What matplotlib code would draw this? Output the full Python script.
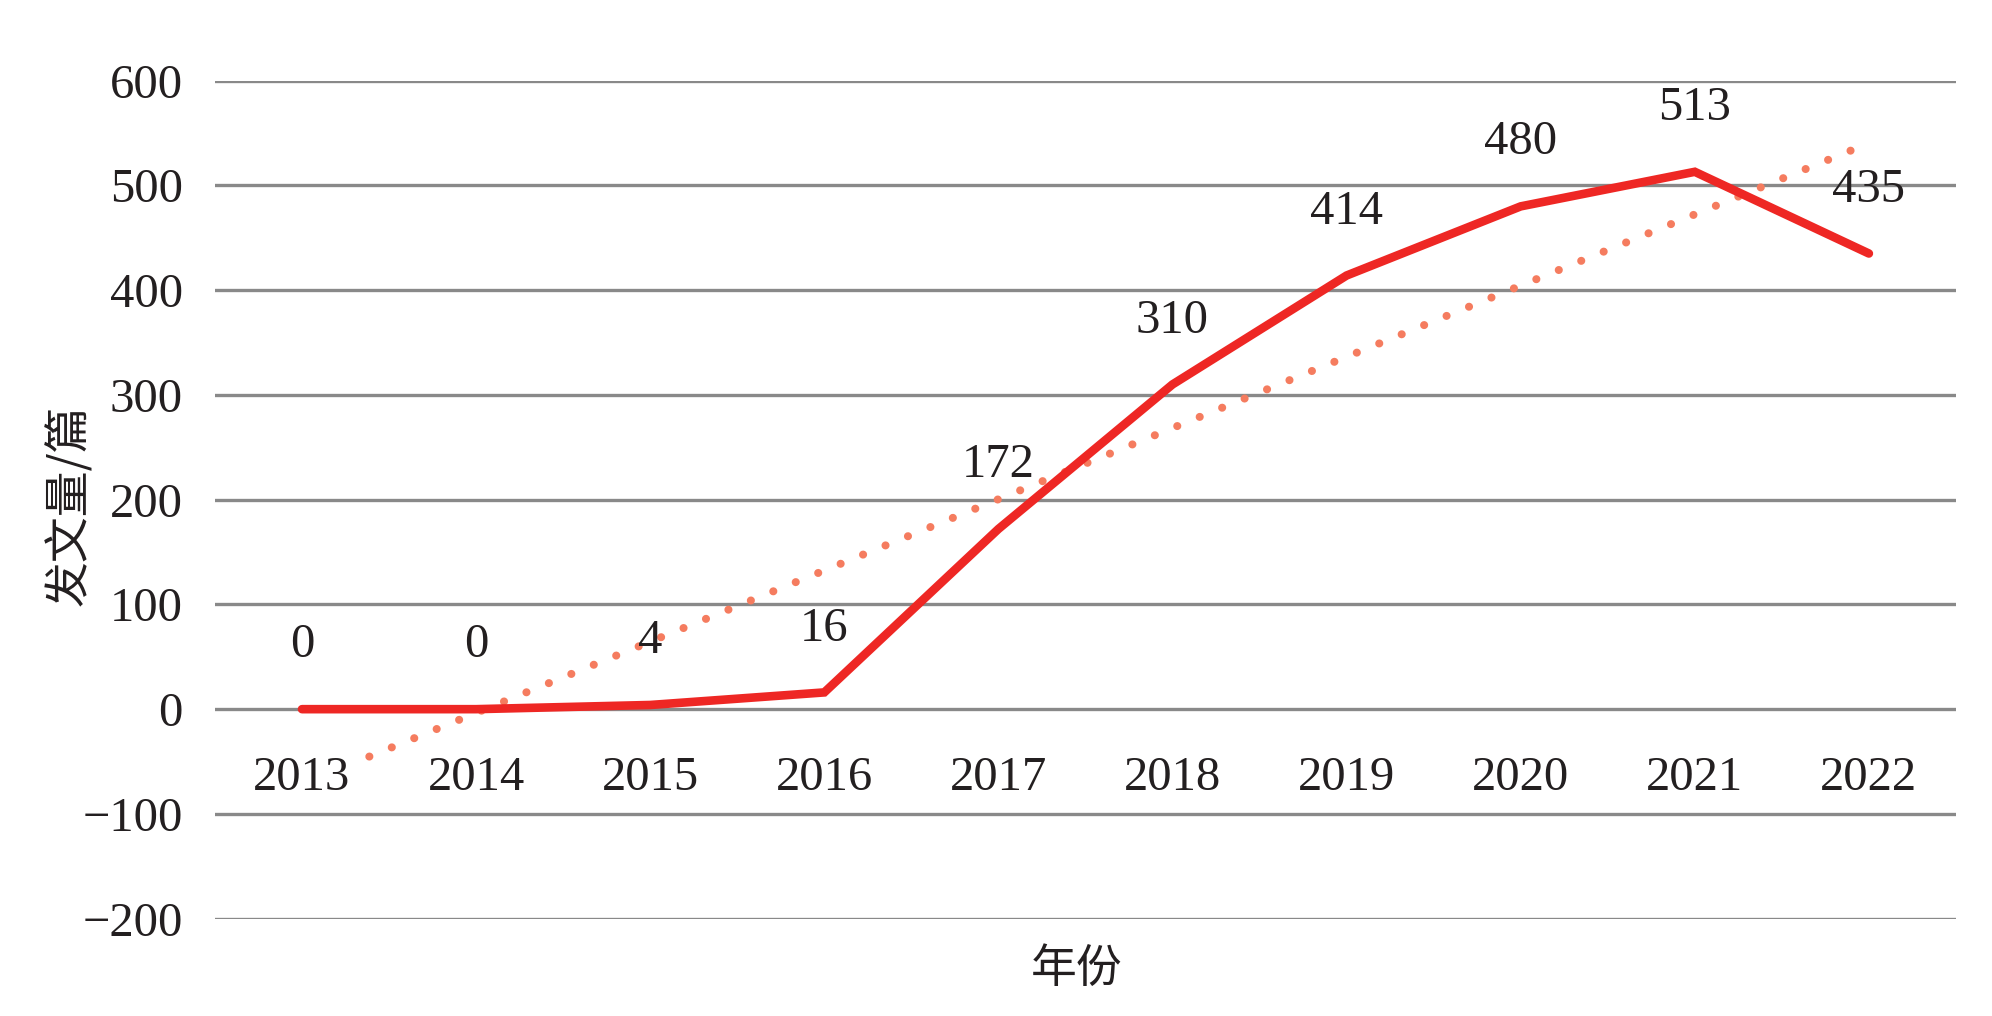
import numpy as np
import matplotlib
matplotlib.use("Agg")
import matplotlib.pyplot as plt

# data
years = ["2013", "2014", "2015", "2016", "2017", "2018", "2019", "2020", "2021", "2022"]
counts = [0, 0, 4, 16, 172, 310, 414, 480, 513, 435]
yticks = [-200, -100, 0, 100, 200, 300, 400, 500, 600]

plt.rcParams['font.family'] = ['Liberation Serif', 'Noto Sans CJK SC', 'DejaVu Sans']
cjk = ['Noto Sans CJK SC', 'DejaVu Sans']

fig = plt.figure(figsize=(19.92, 10.16), dpi=100)
ax = fig.add_axes([0.1079, 0.0958, 0.9819 - 0.1079, 0.9206 - 0.0958])

x = np.arange(len(years))
ax.plot(x, counts, color='#ee2724', lw=6.2, solid_capstyle='round',
        solid_joinstyle='miter', zorder=4)

# linear trendline (like Excel's)
k, b = np.polyfit(x, counts, 1)
ax.plot(x, k * x + b, color='#f57c5f', lw=5.8, linestyle=(0, (0.01, 3.0)),
        dash_capstyle='round', zorder=3)

# data labels above points
for xi, v in zip(x, counts):
    ax.annotate(str(v), (xi, v), xytext=(0, 46), textcoords='offset points',
                ha='center', va='center', fontsize=35, color='#231f20', zorder=6)

# category labels next to the zero line (white box hides the trendline)
for xi, y in zip(x, years):
    ax.annotate(y, (xi, 0), xytext=(0, -34), textcoords='offset points',
                ha='center', va='top', fontsize=35, color='#231f20', zorder=5,
                bbox=dict(boxstyle='square,pad=0.05', fc='white', ec='none'))

ax.set_xlim(-0.5, 9.5)
ax.set_ylim(-200, 600)
ax.set_xticks([])
ax.set_yticks(yticks)
ax.set_yticklabels([str(t).replace('-', '\u2212') for t in yticks], fontsize=35, color='#231f20')
ax.tick_params(axis='y', length=0, pad=23)
ax.grid(axis='y', color='#898989', lw=2.4)
ax.set_axisbelow(True)
for s in ax.spines.values():
    s.set_visible(False)

fig.text(0.035, 0.503, "发文量/篇", rotation=90, ha='center', va='center',
         fontsize=33, family=cjk, color='#231f20')
fig.text(0.5407, 0.047, "年份", ha='center', va='center',
         fontsize=33, family=cjk, color='#231f20')

fig.savefig("out.png", dpi=100)
